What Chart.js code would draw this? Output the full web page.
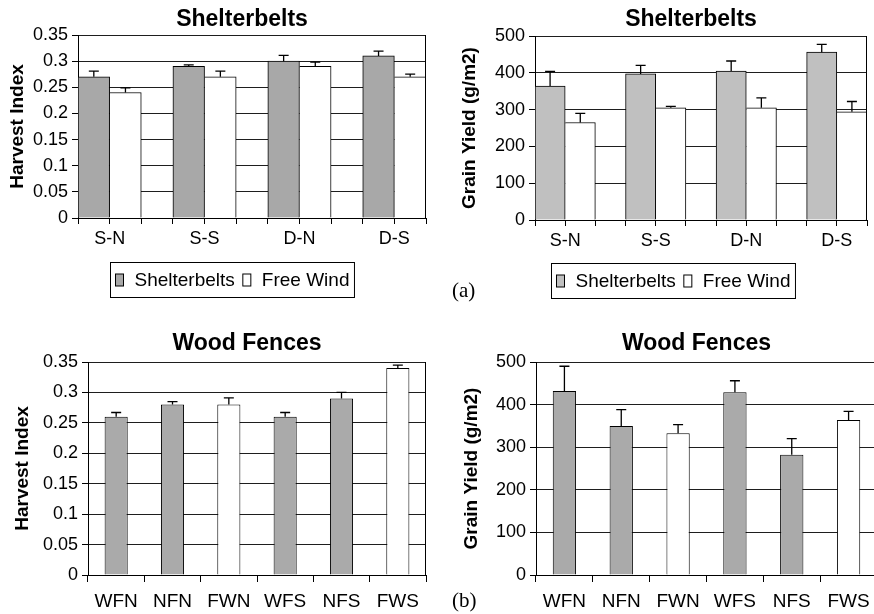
<!DOCTYPE html>
<html>
<head>
<meta charset="utf-8">
<title>Harvest index and grain yield</title>
<script src="https://cdn.jsdelivr.net/npm/chart.js@4.4.1/dist/chart.umd.min.js"></script>
<style>
  html, body { margin: 0; padding: 0; background: #fff; width: 874px; height: 614px; overflow: hidden; }
  .panel { position: absolute; }
  .tag { position: absolute; font-family: "Liberation Serif", "Times New Roman", serif; font-size: 21px; line-height: 21px; color: #000; }
</style>
</head>
<body>
<canvas class="panel" id="beltHarvest" width="437" height="310" style="left:0;top:0"></canvas>
<canvas class="panel" id="beltYield" width="437" height="310" style="left:437px;top:0"></canvas>
<canvas class="panel" id="fenceHarvest" width="437" height="304" style="left:0;top:310px"></canvas>
<canvas class="panel" id="fenceYield" width="445" height="304" style="left:437px;top:310px"></canvas>
<div class="tag" style="left:452px;top:280px">(a)</div>
<div class="tag" style="left:452px;top:590px">(b)</div>
<script>
// ---- data ----
const seriesNames = ['Shelterbelts', 'Free Wind'];

const beltCategories = ['S-N', 'S-S', 'D-N', 'D-S'];
const beltHarvestShelter = [0.27, 0.29, 0.30, 0.31];
const beltHarvestShelterErr = [0.011, 0.003, 0.011, 0.009];
const beltHarvestFree = [0.24, 0.27, 0.29, 0.27];
const beltHarvestFreeErr = [0.009, 0.011, 0.008, 0.005];

const beltYieldShelter = [364, 397, 405, 456];
const beltYieldShelterErr = [40, 23, 27, 21];
const beltYieldFree = [265, 305, 305, 294];
const beltYieldFreeErr = [25, 4, 27, 28];

const fenceCategories = ['WFN', 'NFN', 'FWN', 'WFS', 'NFS', 'FWS'];
const fenceHarvest = [0.26, 0.28, 0.28, 0.26, 0.29, 0.34];
const fenceHarvestErr = [0.007, 0.005, 0.011, 0.007, 0.010, 0.005];
const fenceYield = [432, 350, 333, 429, 282, 364];
const fenceYieldErr = [58, 38, 20, 27, 38, 20];

const harvestAxis = { max: 0.35, step: 0.05, title: 'Harvest Index' };
const yieldAxis = { max: 500, step: 100, title: 'Grain Yield (g/m2)' };

// ---- styling ----
const FONT = '"Liberation Sans", Arial, Helvetica, sans-serif';
const INK = '#000';
const GRID = '#1e1e1e';
const WHITE = '#ffffff';

Chart.defaults.font.family = FONT;
Chart.defaults.color = INK;
Chart.defaults.animation = false;
Chart.defaults.plugins.legend.display = false;
Chart.defaults.plugins.tooltip.enabled = false;

// upward error bars with a short cap, drawn from each dataset's "errors" list
const errorBars = {
  id: 'errorBars',
  afterDatasetsDraw(chart) {
    const { ctx } = chart;
    const y = chart.scales.y;
    ctx.save();
    ctx.strokeStyle = INK;
    ctx.lineWidth = 1.3;
    chart.data.datasets.forEach((ds, di) => {
      if (!ds.errors) return;
      const meta = chart.getDatasetMeta(di);
      meta.data.forEach((bar, i) => {
        const v = meta.controller.getParsed(i).y;
        const top = y.getPixelForValue(v + ds.errors[i]);
        ctx.beginPath();
        ctx.moveTo(bar.x, bar.y);
        ctx.lineTo(bar.x, top);
        ctx.moveTo(bar.x - 5, top);
        ctx.lineTo(bar.x + 5, top);
        ctx.stroke();
      });
    });
    ctx.restore();
  }
};

// right-hand frame line of the plot area
const plotFrame = {
  id: 'plotFrame',
  afterDatasetsDraw(chart) {
    const { ctx, chartArea: a } = chart;
    ctx.save();
    ctx.strokeStyle = INK;
    ctx.lineWidth = 1;
    ctx.beginPath();
    const x = Math.round(a.right) - 0.5;
    ctx.moveTo(x, a.top);
    ctx.lineTo(x, a.bottom);
    ctx.stroke();
    ctx.restore();
  }
};

// bold panel heading placed over the plot
const panelHeading = {
  id: 'panelHeading',
  afterDraw(chart, args, opts) {
    if (!opts.text) return;
    const { ctx, chartArea: a } = chart;
    ctx.save();
    ctx.font = 'bold 23px ' + FONT;
    ctx.fillStyle = INK;
    ctx.textAlign = 'center';
    ctx.textBaseline = 'alphabetic';
    ctx.fillText(opts.text, (a.left + a.right) / 2 + opts.dx, opts.baseline);
    ctx.restore();
  }
};

// framed legend box below the axis
const framedLegend = {
  id: 'framedLegend',
  afterDraw(chart, args, opts) {
    if (!opts.display) return;
    const { ctx, chartArea: a } = chart;
    const x0 = Math.round(a.left + opts.dx) + 0.5;
    const y0 = Math.round(a.bottom + opts.dy) + 0.5;
    const h = 35;
    const yc = y0 + h / 2;
    ctx.save();
    ctx.font = '19px ' + FONT;
    ctx.textBaseline = 'middle';
    ctx.lineWidth = 1;
    ctx.strokeStyle = INK;
    let x = x0 + 5;
    chart.data.datasets.forEach((ds, i) => {
      ctx.fillStyle = ds.backgroundColor;
      ctx.fillRect(x, yc - 6, 8, 12);
      ctx.strokeRect(x, yc - 6, 8, 12);
      ctx.fillStyle = INK;
      ctx.fillText(ds.label, x + 19, yc + 1);
      x += 19 + ctx.measureText(ds.label).width + (i < chart.data.datasets.length - 1 ? 8 : 5);
    });
    ctx.strokeRect(x0, y0, x - x0, h);
    ctx.restore();
  }
};

Chart.register(errorBars, plotFrame, panelHeading, framedLegend);

function valueScale(axis, width, titleOffset) {
  return {
    min: 0,
    max: axis.max,
    ticks: {
      stepSize: axis.step,
      padding: 4,
      font: { size: 18 },
      callback: v => String(+v.toFixed(2))
    },
    grid: { color: GRID, lineWidth: 1, tickLength: 6, tickColor: INK, drawTicks: true },
    border: { color: INK, width: 1 },
    title: {
      display: true,
      text: axis.title,
      font: { size: 19, weight: 'bold' },
      padding: { top: titleOffset, bottom: 0 }
    },
    afterFit: s => { s.width = width; }
  };
}

// paired bars: each category takes three slots (shelter, free wind, gap)
function beltChart(id, shelter, shelterErr, free, freeErr, axis, gray, layout) {
  const slot = (i, k) => 3 * i + k + 0.5;
  return new Chart(document.getElementById(id), {
    type: 'bar',
    data: {
      datasets: [
        {
          label: seriesNames[0],
          data: beltCategories.map((c, i) => ({ x: slot(i, 0), y: shelter[i] })),
          errors: shelterErr,
          backgroundColor: gray,
          borderColor: INK,
          borderWidth: { top: 1, left: 1, right: 1, bottom: 0 },
          borderSkipped: false
        },
        {
          label: seriesNames[1],
          data: beltCategories.map((c, i) => ({ x: slot(i, 1), y: free[i] })),
          errors: freeErr,
          backgroundColor: WHITE,
          borderColor: INK,
          borderWidth: { top: 1, left: 0, right: 1, bottom: 0 },
          borderSkipped: false
        }
      ]
    },
    options: {
      responsive: false,
      devicePixelRatio: 1,
      grouped: false,
      barPercentage: 1,
      categoryPercentage: 1,
      layout: { padding: layout.padding },
      scales: {
        x: {
          type: 'linear',
          min: 0,
          max: beltCategories.length * 3 - 1,
          offset: false,
          ticks: {
            stepSize: 1,
            autoSkip: false,
            maxRotation: 0,
            padding: layout.xPad,
            font: { size: 18 },
            callback: v => (v % 3 === 1 ? beltCategories[(v - 1) / 3] : '')
          },
          grid: { offset: false, drawOnChartArea: false, drawTicks: true, tickLength: 6, color: INK },
          border: { color: INK, width: 1 },
          afterFit: s => { s.height = layout.xHeight; }
        },
        y: valueScale(axis, layout.yWidth, layout.titleOffset)
      },
      plugins: {
        panelHeading: { text: 'Shelterbelts', dx: -10, baseline: layout.headBase },
        framedLegend: { display: true, dx: layout.legendDx, dy: layout.legendDy }
      }
    }
  });
}

// single bars per fence treatment; free-wind plots in white
function fenceChart(id, values, errs, axis, layout) {
  return new Chart(document.getElementById(id), {
    type: 'bar',
    data: {
      labels: fenceCategories,
      datasets: [{
        label: 'Wood Fences',
        data: values,
        errors: errs,
        backgroundColor: fenceCategories.map(c => (c.startsWith('FW') ? WHITE : '#aaaaaa')),
        borderColor: INK,
        borderWidth: 1,
        barPercentage: 0.41,
        categoryPercentage: 1
      }]
    },
    options: {
      responsive: false,
      devicePixelRatio: 1,
      layout: { padding: layout.padding },
      scales: {
        x: {
          ticks: { autoSkip: false, maxRotation: 0, padding: layout.xPad, font: { size: 19 } },
          grid: { offset: true, drawOnChartArea: false, drawTicks: true, tickLength: 7, color: INK },
          border: { color: INK, width: 1 },
          afterFit: s => { s.height = layout.xHeight; }
        },
        y: valueScale(axis, layout.yWidth, layout.titleOffset)
      },
      plugins: {
        panelHeading: { text: 'Wood Fences', dx: -10, baseline: layout.headBase },
        framedLegend: { display: false }
      }
    }
  });
}

beltChart('beltHarvest', beltHarvestShelter, beltHarvestShelterErr, beltHarvestFree, beltHarvestFreeErr,
  harvestAxis, '#a8a8a8',
  { padding: { left: 0, right: 11, top: 35, bottom: 62 }, xHeight: 30, yWidth: 78, titleOffset: 6, xPad: 4,
    headBase: 26, legendDx: 32, legendDy: 44 });

beltChart('beltYield', beltYieldShelter, beltYieldShelterErr, beltYieldFree, beltYieldFreeErr,
  yieldAxis, '#c0c0c0',
  { padding: { left: 0, right: 7, top: 36, bottom: 60 }, xHeight: 30, yWidth: 98, titleOffset: 21.6, xPad: 4,
    headBase: 26, legendDx: 16, legendDy: 43 });

fenceChart('fenceHarvest', fenceHarvest, fenceHarvestErr, harvestAxis,
  { padding: { left: 0, right: 11, top: 52, bottom: 0 }, xHeight: 39, yWidth: 88, titleOffset: 11.6, xPad: 8, headBase: 40 });

fenceChart('fenceYield', fenceYield, fenceYieldErr, yieldAxis,
  { padding: { left: 0, right: 5, top: 52, bottom: 0 }, xHeight: 39, yWidth: 99, titleOffset: 23.6, xPad: 8, headBase: 40 });
</script>
</body>
</html>
